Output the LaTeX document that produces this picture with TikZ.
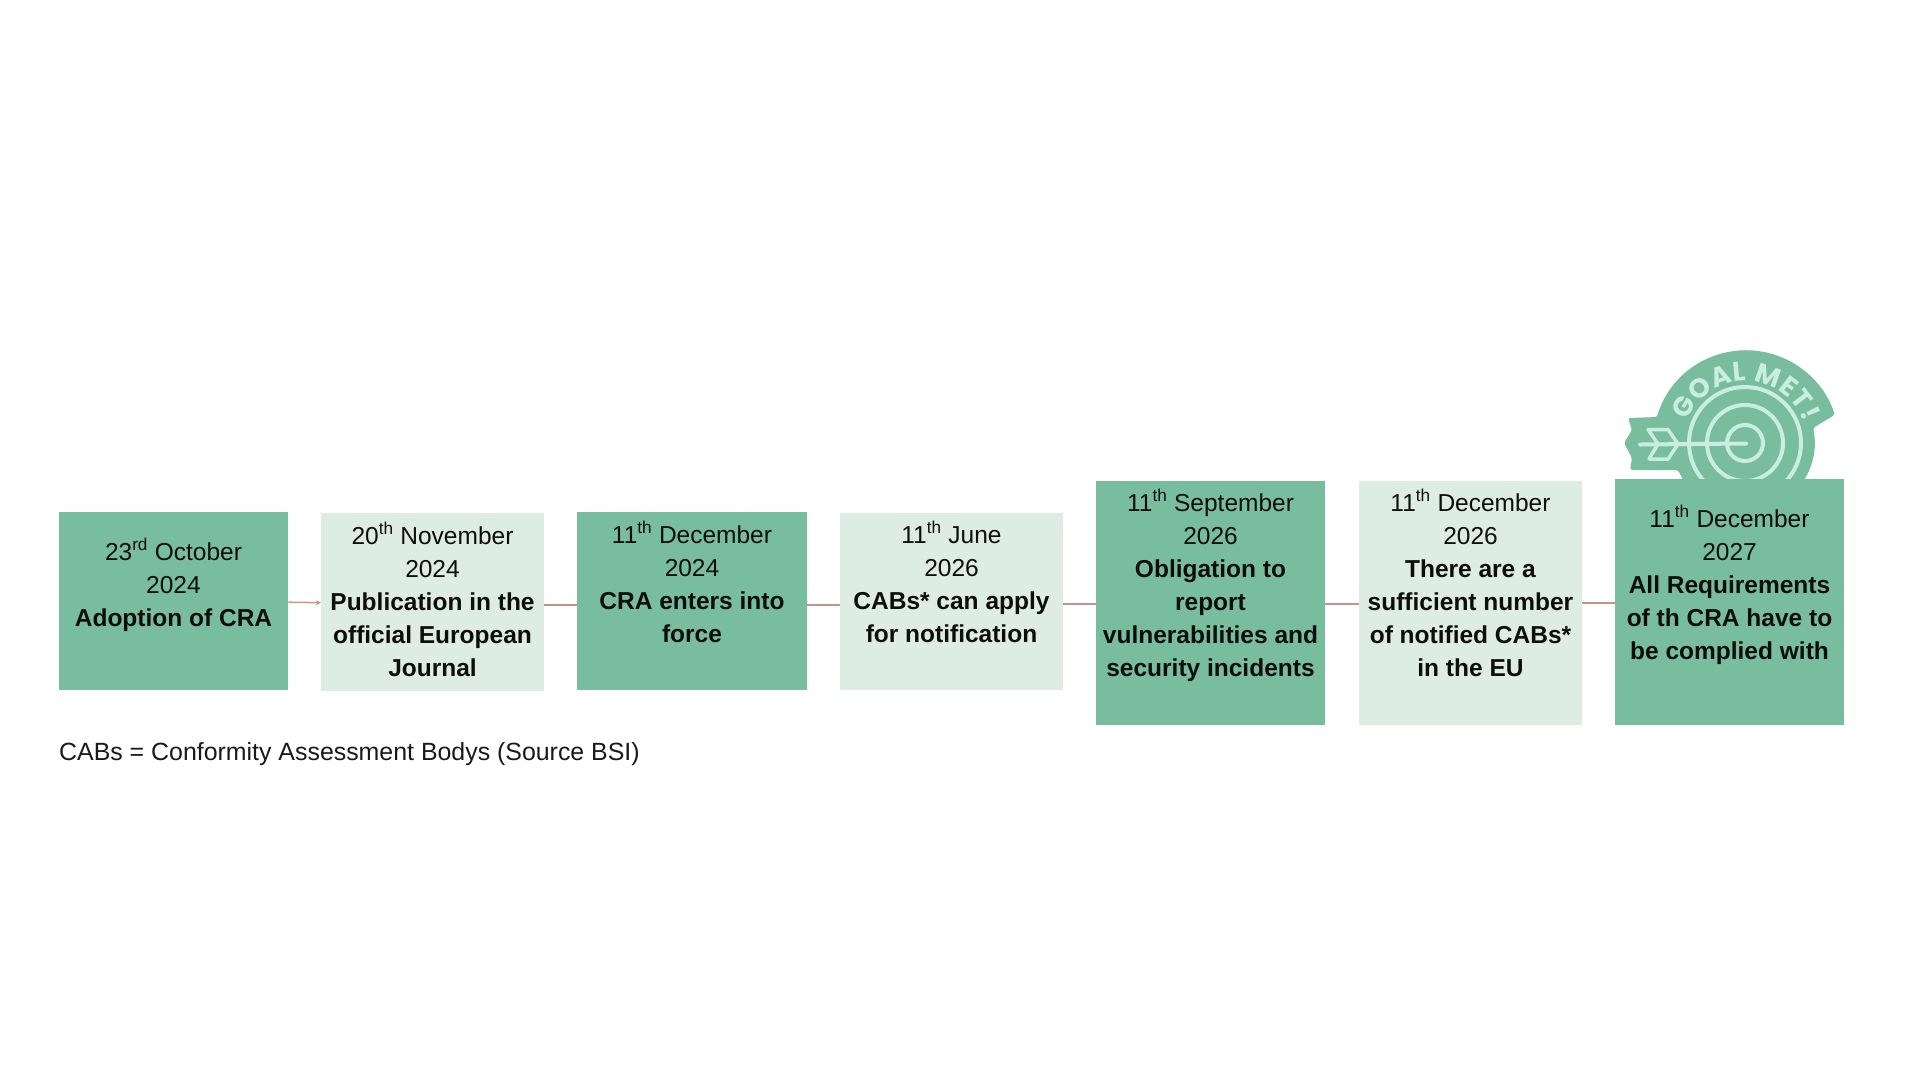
\documentclass[tikz,border=0pt]{standalone}
\usepackage{fontspec}
\setmainfont{Liberation Sans}
\newfontfamily\badgefont{Poppins}
\usetikzlibrary{arrows.meta,calc,positioning,decorations.text}
\definecolor{stepdark}{HTML}{78BE9E}
\definecolor{steplight}{HTML}{DDEDE4}
\definecolor{ringmint}{HTML}{C9EDDF}
\definecolor{linkred}{HTML}{C99488}
\newcommand{\when}[2]{#1\textsuperscript{#2}}

\begin{document}
\begin{tikzpicture}[x=1pt,y=1pt,
  font=\fontsize{24.5}{33}\selectfont,
  dark/.style={fill=stepdark,draw=none,anchor=north west,inner sep=0pt},
  light/.style={dark,fill=steplight},
  words/.style={anchor=base,align=center,inner sep=0pt,text=black!95},
  link/.style={draw=linkred,line width=2pt},
  ring/.style={draw=ringmint,line width=4pt}]
\useasboundingbox (0,0) rectangle (1920,-1080);

% Badge sits behind the last box, which cuts off its lower part.
\fill[stepdark,rounded corners=2.5pt] (1688,-490) -- (1678,-470) -- (1630,-470) -- (1632,-458)
  -- (1624,-443) -- (1632,-430) -- (1628,-418) -- (1657,-417)
  arc[start angle=163.6,end angle=17.8,radius=93]
  -- (1813,-428) arc[start angle=12.4,end angle=-40,radius=69] -- (1800,-490) -- cycle;
\foreach \r in {18,38,56}{
  \draw[ring] (1745,-443) circle[radius=\r];
}
\draw[ring,line cap=round] (1640,-444.5) -- (1746,-443.5);
\draw[ring,line width=3.5pt,line join=round] (1648,-429.5) -- (1668,-429.5) -- (1678,-444)
  -- (1668,-459) -- (1649,-459) -- (1658,-444) -- cycle;
\path[decorate,decoration={text along path,text align=fit to path,
  text={|\badgefont\bfseries\fontsize{27}{27}\selectfont\color{ringmint}|GOAL MET!}}]
  (1745,-443) ++(159:62) arc[start angle=159,end angle=20,radius=62];

\foreach \name/\look/\xl/\xr/\yt/\yb/\ybase/\txt in {
  adopt/dark/59/288/512/690/626/{\when{23}{rd} October\\2024\\\textbf{Adoption of CRA}},
  publish/light/321/544/513/691/676/{\when{20}{th} November\\2024\\\textbf{Publication in the}\\\textbf{official European}\\\textbf{Journal}},
  force/dark/577/807/512/690/642/{\when{11}{th} December\\2024\\\textbf{CRA enters into}\\\textbf{force}},
  notify/light/840/1063/513/690/642/{\when{11}{th} June\\2026\\\textbf{CABs* can apply}\\\textbf{for notification}},
  report/dark/1096/1325/481/725/676/{\when{11}{th} September\\2026\\\textbf{Obligation to}\\\textbf{report}\\\textbf{vulnerabilities and}\\\textbf{security incidents}},
  enough/light/1359/1582/481/725/676/{\when{11}{th} December\\2026\\\textbf{There are a}\\\textbf{sufficient number}\\\textbf{of notified CABs*}\\\textbf{in the EU}},
  comply/dark/1615/1844/479/725/659/{\when{11}{th} December\\2027\\\textbf{All Requirements}\\\textbf{of th CRA have to}\\\textbf{be complied with}}}{
  \node[\look,minimum width=\xr pt-\xl pt,minimum height=\yb pt-\yt pt] (\name) at (\xl,-\yt) {};
  \node[words] (\name text) at (\xl/2+\xr/2,-\ybase) {\txt};
}

% Only the first link shows its head, the others run under the boxes.
\draw[link,line width=1.5pt,-{Stealth[length=5pt,width=5pt]}] ([yshift=-1pt]adopt.east) -- ([yshift=-0.5pt]publish.west);
\foreach \from/\to/\dy in {publish/force/-2.7,force/notify/-3.3,notify/report/-2.5,report/enough/-0.5,enough/comply/0}{
  \draw[link] ([yshift=\dy pt]\from.east) -- ([yshift=\dy pt]\from.east -| \to.west);
}

\node[anchor=base west,inner sep=0pt,text=black!90,font=\fontsize{24.9}{33}\selectfont] (note) at (59,-760)
  {CABs = Conformity Assessment Bodys (Source BSI)};
\end{tikzpicture}
\end{document}
